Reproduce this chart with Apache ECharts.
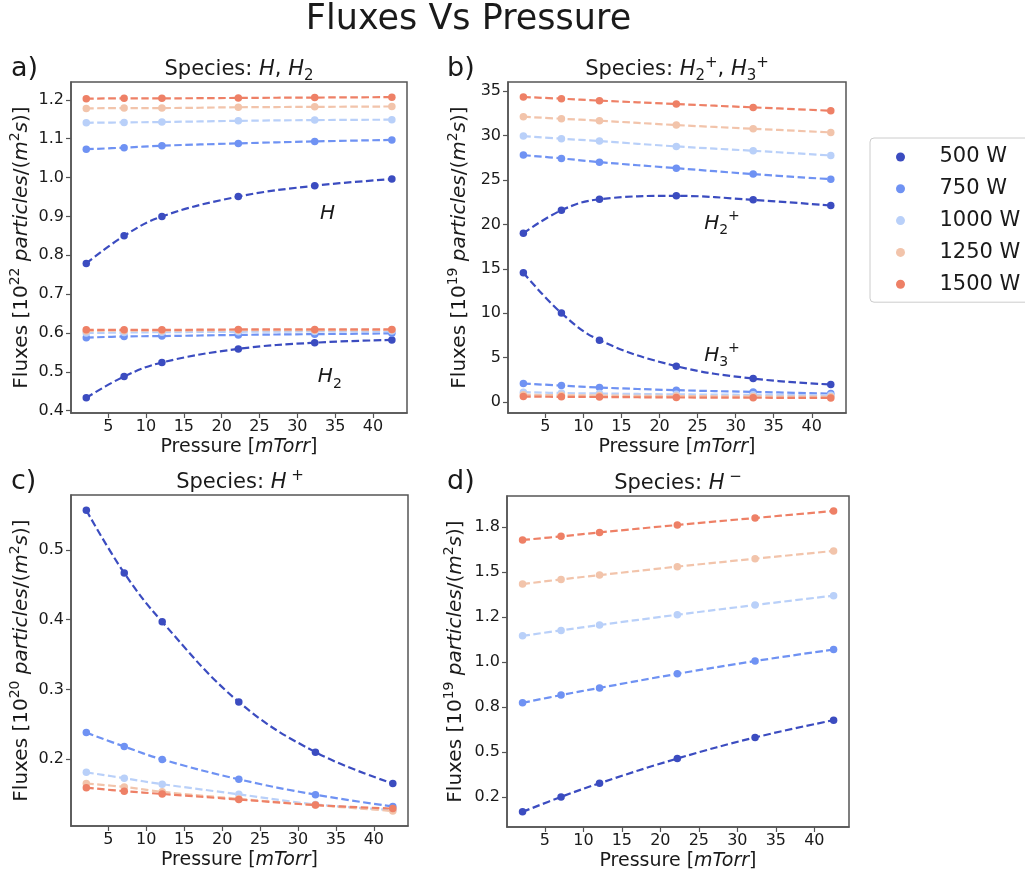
<!DOCTYPE html>
<html>
<head>
<meta charset="utf-8">
<script src="https://cdn.jsdelivr.net/npm/echarts@6/dist/echarts.min.js"></script>
<style>
html,body{margin:0;padding:0;background:#fff;}
#chart{width:1025px;height:872px;}
</style>
</head>
<body>
<div id="chart"></div>
<script>
// ---------------- DATA ----------------
const powers = ['500 W', '750 W', '1000 W', '1250 W', '1500 W'];
const pressure = [2.1, 7.1, 12.1, 22.2, 32.3, 42.5];

// panel a) H and H2 fluxes [1e22]
const fluxH = [
  [0.779, 0.850, 0.900, 0.951, 0.979, 0.996],
  [1.073, 1.077, 1.082, 1.088, 1.093, 1.097],
  [1.141, 1.142, 1.143, 1.146, 1.148, 1.149],
  [1.178, 1.179, 1.179, 1.181, 1.182, 1.183],
  [1.203, 1.204, 1.204, 1.205, 1.206, 1.207]
];
const fluxH2 = [
  [0.433, 0.488, 0.524, 0.559, 0.575, 0.582],
  [0.588, 0.591, 0.592, 0.595, 0.597, 0.599],
  [0.600, 0.601, 0.602, 0.603, 0.604, 0.605],
  [0.605, 0.606, 0.606, 0.607, 0.607, 0.608],
  [0.608, 0.608, 0.608, 0.609, 0.609, 0.609]
];
// panel b) H2+ and H3+ fluxes [1e19]
const fluxH2p = [
  [19.0, 21.6, 22.84, 23.22, 22.77, 22.13],
  [27.81, 27.44, 27.02, 26.34, 25.67, 25.10],
  [29.96, 29.66, 29.39, 28.79, 28.30, 27.77],
  [32.14, 31.91, 31.69, 31.20, 30.78, 30.37],
  [34.36, 34.17, 33.95, 33.57, 33.19, 32.82]
];
const fluxH3p = [
  [14.56, 10.01, 6.96, 4.03, 2.63, 1.96],
  [2.07, 1.84, 1.62, 1.32, 1.13, 0.94],
  [1.10, 1.00, 0.95, 0.85, 0.80, 0.75],
  [0.80, 0.75, 0.72, 0.66, 0.62, 0.58],
  [0.60, 0.57, 0.55, 0.50, 0.47, 0.45]
];
// panel c) H+ fluxes [1e20]
const fluxHp = [
  [0.557, 0.467, 0.397, 0.282, 0.210, 0.165],
  [0.238, 0.218, 0.1995, 0.171, 0.149, 0.132],
  [0.181, 0.1726, 0.164, 0.1495, 0.135, 0.127],
  [0.165, 0.160, 0.153, 0.143, 0.134, 0.1255],
  [0.159, 0.154, 0.150, 0.142, 0.134, 0.129]
];
// panel d) H- fluxes [1e19]
const fluxHm = [
  [0.169, 0.252, 0.328, 0.465, 0.582, 0.678],
  [0.774, 0.817, 0.857, 0.935, 1.006, 1.070],
  [1.146, 1.176, 1.206, 1.263, 1.317, 1.369],
  [1.433, 1.459, 1.483, 1.530, 1.574, 1.617],
  [1.678, 1.698, 1.720, 1.761, 1.800, 1.839]
];

// ticks
const xTicks = [5, 10, 15, 20, 25, 30, 35, 40];
const yTicksA = [0.4, 0.5, 0.6, 0.7, 0.8, 0.9, 1.0, 1.1, 1.2];
const yTicksB = [0, 5, 10, 15, 20, 25, 30, 35];
const yTicksC = [0.2, 0.3, 0.4, 0.5];
const yTicksD = [0.25, 0.5, 0.75, 1.0, 1.25, 1.5, 1.75];
const yTickLabelsD = ['0.2', '0.5', '0.8', '1.0', '1.2', '1.5', '1.8'];

// annotation anchors (data coordinates)
const annotH = [34.0, 0.908];
const annotH2 = [34.3, 0.486];
const annotH2p = [28.2, 20.1];
const annotH3p = [28.2, 5.2];

// ---------------- STYLE ----------------
const FONT = 'DejaVu Sans';
const colors = ['#3b4cc0', '#6f92f3', '#b9d0f9', '#f2c4ab', '#ee8066'];
const SPINE = '#555';
const TXT = '#1a1a1a';

const chart = echarts.init(document.getElementById('chart'), null, {renderer: 'canvas'});

const richBase = (fs) => ({
  n: {fontFamily: FONT, fontSize: fs, color: TXT, fill: TXT, lineHeight: 28},
  i: {fontFamily: FONT, fontSize: fs, color: TXT, fill: TXT, fontStyle: 'italic', lineHeight: 28},
  sup: {fontFamily: FONT, fontSize: Math.round(fs * 0.7), color: TXT, fill: TXT, verticalAlign: 'top', lineHeight: 12},
  sub: {fontFamily: FONT, fontSize: Math.round(fs * 0.7), color: TXT, fill: TXT, verticalAlign: 'bottom', lineHeight: 14}
});

const grids = [
  {left: 71, top: 82, width: 336, height: 331},
  {left: 508, top: 82, width: 338, height: 331},
  {left: 71, top: 495, width: 337, height: 331},
  {left: 507, top: 496, width: 342, height: 331}
].map(g => Object.assign(g, {show: true, borderColor: SPINE, borderWidth: 1.5, backgroundColor: 'transparent', containLabel: false}));

const xMin = 0.08, xMax = 44.5;
const xAxes = [0, 1, 2, 3].map(i => ({
  gridIndex: i, type: 'value', min: xMin, max: xMax,
  name: '{n|Pressure [}{i|mTorr}{n|]}',
  nameLocation: 'middle', nameGap: 20, nameMoveOverlap: false,
  nameTextStyle: {fontFamily: FONT, fontSize: 19, color: TXT, rich: richBase(19)},
  axisLine: {show: true, onZero: false, lineStyle: {color: SPINE, width: 1.5}},
  axisTick: {show: true, length: 5, customValues: xTicks, lineStyle: {color: SPINE, width: 1.2}},
  axisLabel: {customValues: xTicks, fontFamily: FONT, fontSize: 16, color: TXT, margin: 6},
  splitLine: {show: false}
}));

const yName = (exp) => '{n|Fluxes [10}{sup|' + exp + '}{n| }{i|particles}{n|/(}{i|m}{sup|2}{i|s}{n|)]}';
const yDefs = [
  {min: 0.394, max: 1.246, ticks: yTicksA, fmt: v => v.toFixed(1), exp: '22', gap: 35},
  {min: -1.25, max: 36.05, ticks: yTicksB, fmt: v => String(Math.round(v)), exp: '19', gap: 34},
  {min: 0.104, max: 0.579, ticks: yTicksC, fmt: v => v.toFixed(1), exp: '20', gap: 35},
  {min: 0.085, max: 1.922, ticks: yTicksD, fmt: v => {
      const k = yTicksD.findIndex(t => Math.abs(t - v) < 1e-6);
      return k >= 0 ? yTickLabelsD[k] : '';
    }, exp: '19', gap: 37}
];
const yAxes = yDefs.map((d, i) => ({
  gridIndex: i, type: 'value', min: d.min, max: d.max,
  name: yName(d.exp), nameLocation: 'middle', nameRotate: 90, nameGap: d.gap, nameMoveOverlap: false,
  nameTextStyle: {fontFamily: FONT, fontSize: 20, color: TXT, rich: richBase(20)},
  axisLine: {show: true, onZero: false, lineStyle: {color: SPINE, width: 1.5}},
  axisTick: {show: true, length: 5, customValues: d.ticks, lineStyle: {color: SPINE, width: 1.2}},
  axisLabel: {customValues: d.ticks, formatter: d.fmt, fontFamily: FONT, fontSize: 16, color: TXT, margin: 7},
  splitLine: {show: false}
}));

const series = [];
function addGroup(panel, arrs) {
  arrs.forEach((arr, k) => {
    series.push({
      type: 'line', name: powers[k], xAxisIndex: panel, yAxisIndex: panel,
      data: pressure.map((p, j) => [p, arr[j]]),
      symbol: 'circle', symbolSize: 7.5, showSymbol: true, smooth: 0.4,
      lineStyle: {type: [7.5, 3.5], width: 2.2, color: colors[k]},
      itemStyle: {color: colors[k]},
      z: 2 + k, animation: false, silent: true
    });
  });
}
addGroup(0, fluxH);
addGroup(0, fluxH2);
addGroup(1, fluxH2p);
addGroup(1, fluxH3p);
addGroup(2, fluxHp);
addGroup(3, fluxHm);

const gText = (x, y, text, fs, align, rich) => ({
  type: 'text', x: x, y: y, silent: true, z: 100,
  style: {text: text, fontFamily: FONT, fontSize: fs, fill: TXT, align: align, verticalAlign: 'middle', rich: rich}
});
const titleRich = richBase(21);
const graphic = [
  gText(468.5, 20, 'Fluxes Vs Pressure', 35, 'center'),
  gText(11, 69, 'a)', 27, 'left'),
  gText(447, 69, 'b)', 27, 'left'),
  gText(11, 482, 'c)', 27, 'left'),
  gText(447, 482, 'd)', 27, 'left'),
  gText(239, 70, '{n|Species: }{i|H}{n|, }{i|H}{sub|2}', 21, 'center', titleRich),
  gText(677, 70, '{n|Species: }{i|H}{sub|2}{sup|+}{n|, }{i|H}{sub|3}{sup|+}', 21, 'center', titleRich),
  gText(240, 483, '{n|Species: }{i|H}{sup| +}', 21, 'center', titleRich),
  gText(678, 484, '{n|Species: }{i|H}{sup| \u2212}', 21, 'center', titleRich)
];

chart.setOption({
  animation: false,
  backgroundColor: '#fff',
  textStyle: {fontFamily: FONT},
  grid: grids,
  xAxis: xAxes,
  yAxis: yAxes,
  legend: {
    orient: 'vertical', left: 870, top: 138, padding: [8, 30, 7, 26],
    itemWidth: 28, itemHeight: 9, itemGap: 9.8, icon: 'circle',
    data: powers, selectedMode: false,
    textStyle: {fontFamily: FONT, fontSize: 21, color: TXT, lineHeight: 22, padding: [0, 0, 0, 20]},
    borderColor: '#cccccc', borderWidth: 1, borderRadius: 4, backgroundColor: '#fff'
  },
  graphic: graphic,
  series: series
});

// curve annotations, placed through the panels' own scales
const annRich = richBase(20);
const annots = [
  [0, annotH, '{i|H}'],
  [0, annotH2, '{i|H}{sub|2}'],
  [1, annotH2p, '{i|H}{sub|2}{sup|+}'],
  [1, annotH3p, '{i|H}{sub|3}{sup|+}']
];
const annGraphics = annots.map(([g, pos, txt]) => {
  const px = chart.convertToPixel({gridIndex: g}, pos);
  return gText(px[0], px[1], txt, 20, 'center', annRich);
});
chart.setOption({graphic: graphic.concat(annGraphics)});
</script>
</body>
</html>
